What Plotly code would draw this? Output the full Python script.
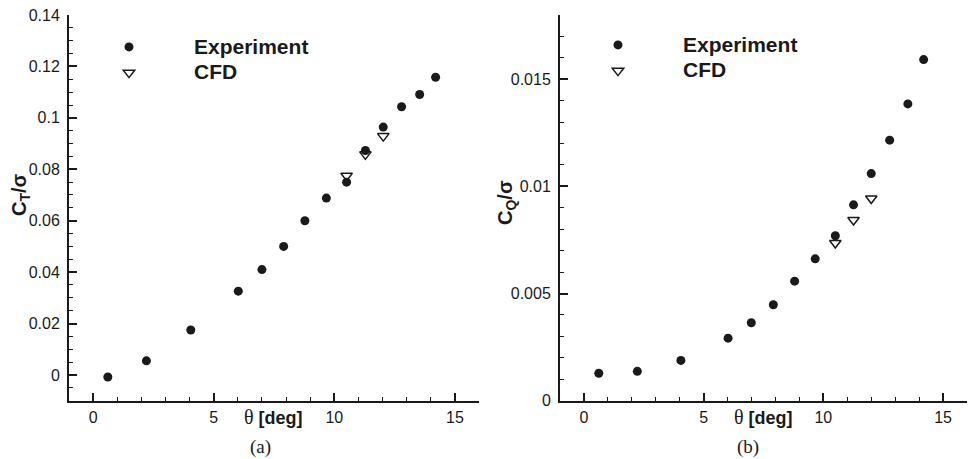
import plotly.graph_objects as go

# Blade pitch angle (deg) and measured / computed coefficients
theta_exp = [0.61, 2.21, 4.05, 6.02, 7.0, 7.9, 8.78, 9.67, 10.51, 11.29, 12.03, 12.79, 13.54, 14.2]
ct_exp = [-0.0008, 0.0055, 0.0175, 0.0326, 0.041, 0.050, 0.060, 0.0688, 0.075, 0.0873, 0.0964, 0.1043, 0.1091, 0.1158]

theta_cfd = [10.51, 11.29, 12.03]
ct_cfd = [0.0775, 0.0858, 0.0929]

theta_exp_q = [0.62, 2.23, 4.05, 6.02, 6.99, 7.91, 8.8, 9.66, 10.5, 11.26, 12.0, 12.77, 13.53, 14.19]
cq_exp = [0.00128, 0.00137, 0.00188, 0.00292, 0.00364, 0.00448, 0.00558, 0.00662, 0.0077, 0.00914, 0.0106, 0.01216, 0.01385, 0.01592]

theta_cfd_q = [10.5, 11.26, 12.0]
cq_cfd = [0.00736, 0.00843, 0.00944]

# Tick labels
x_ticks = [0, 5, 10, 15]
x_ticktext = ["0", "5", "10", "15"]
ct_ticks = [0, 0.02, 0.04, 0.06, 0.08, 0.1, 0.12, 0.14]
ct_ticktext = ["0", "0.02", "0.04", "0.06", "0.08", "0.1", "0.12", "0.14"]
cq_ticks = [0, 0.005, 0.01, 0.015]
cq_ticktext = ["0", "0.005", "0.01", "0.015"]

W, H = 968, 459
SANS = "Liberation Sans, Arial, Helvetica, sans-serif"
SERIF = "Liberation Serif, Times New Roman, serif"
INK = "#1a1a1a"


def px(x):
    return x / W


def py(y):
    return 1 - y / H


def big(label):
    # legend entries: larger glyphs while keeping compact row spacing
    return "<span style='font-size:21px'>" + label + "</span>"


fig = go.Figure()

circle = dict(symbol="circle", size=9, color=INK, line=dict(width=0))
tri = dict(symbol="triangle-down-open", size=10, color=INK, line=dict(width=1.5, color=INK))

fig.add_trace(go.Scatter(x=theta_exp, y=ct_exp, mode="markers", marker=circle,
                         name=big("Experiment"), xaxis="x", yaxis="y", legend="legend"))
fig.add_trace(go.Scatter(x=theta_cfd, y=ct_cfd, mode="markers", marker=tri,
                         name=big("CFD"), xaxis="x", yaxis="y", legend="legend"))
fig.add_trace(go.Scatter(x=theta_exp_q, y=cq_exp, mode="markers", marker=circle,
                         name=big("Experiment"), xaxis="x2", yaxis="y2", legend="legend2"))
fig.add_trace(go.Scatter(x=theta_cfd_q, y=cq_cfd, mode="markers", marker=tri,
                         name=big("CFD"), xaxis="x2", yaxis="y2", legend="legend2"))

tick_font = dict(family=SANS, size=16, color=INK)
axis_common = dict(
    showline=True, linecolor=INK, linewidth=2,
    ticks="inside", ticklen=8, tickwidth=1.5, tickcolor=INK,
    showgrid=False, zeroline=False, mirror=False,
    tickfont=tick_font, automargin=False,
)
minor_x = dict(dtick=1, tick0=0, ticks="inside", ticklen=4, tickwidth=1.2, tickcolor=INK, showgrid=False)

x_dom_a = [px(69), px(479)]
x_dom_b = [px(560), px(967)]
y_dom = [py(400.7), py(15)]

legend_font = dict(family=SANS, size=17.5, color=INK, weight="bold")

fig.update_layout(
    width=W, height=H,
    margin=dict(l=0, r=0, t=0, b=0),
    paper_bgcolor="white", plot_bgcolor="white",
    xaxis=dict(domain=x_dom_a, range=[-1, 16], anchor="y",
               tickvals=x_ticks, ticktext=x_ticktext, minor=minor_x,
               ticklabelstandoff=1, **axis_common),
    yaxis=dict(domain=y_dom, range=[-0.01, 0.14], anchor="x",
               tickvals=ct_ticks, ticktext=ct_ticktext,
               minor=dict(dtick=0.005, tick0=0, ticks="inside", ticklen=4,
                          tickwidth=1.2, tickcolor=INK, showgrid=False),
               ticklabelstandoff=4, **axis_common),
    xaxis2=dict(domain=x_dom_b, range=[-1, 16], anchor="y2",
                tickvals=x_ticks, ticktext=x_ticktext, minor=minor_x,
                ticklabelstandoff=1, **axis_common),
    yaxis2=dict(domain=y_dom, range=[0, 0.018], anchor="x2",
                tickvals=cq_ticks, ticktext=cq_ticktext,
                minor=dict(dtick=0.001, tick0=0, ticks="inside", ticklen=4,
                           tickwidth=1.2, tickcolor=INK, showgrid=False),
                ticklabelstandoff=4, **axis_common),
    legend=dict(x=px(64), y=py(29), xanchor="left", yanchor="top",
                bgcolor="rgba(0,0,0,0)", itemwidth=120, tracegroupgap=0,
                font=legend_font),
    legend2=dict(x=px(553), y=py(27), xanchor="left", yanchor="top",
                 bgcolor="rgba(0,0,0,0)", itemwidth=120, tracegroupgap=0,
                 font=legend_font),
)

theta_label = ("<span style='font-family:Liberation Serif;font-weight:normal;font-size:20px'>θ</span>"
               " <b>[deg]</b>")
annos = [
    dict(x=px(273), y=py(417), text=theta_label, font=dict(family=SANS, size=18, color=INK)),
    dict(x=px(763), y=py(417), text=theta_label, font=dict(family=SANS, size=18, color=INK)),
    dict(x=px(260), y=py(447), text="(a)", font=dict(family=SERIF, size=19, color=INK)),
    dict(x=px(748), y=py(447), text="(b)", font=dict(family=SERIF, size=19, color=INK)),
    dict(x=px(20), y=py(195), text="<b>C<sub>T</sub>/σ</b>", textangle=-90,
         font=dict(family=SANS, size=20, color=INK)),
    dict(x=px(507), y=py(202), text="<b>C<sub>Q</sub>/σ</b>", textangle=-90,
         font=dict(family=SANS, size=20, color=INK)),
]
for a in annos:
    a.update(xref="paper", yref="paper", xanchor="center", yanchor="middle", showarrow=False)
fig.update_layout(annotations=annos)

fig.write_html("out.html")
